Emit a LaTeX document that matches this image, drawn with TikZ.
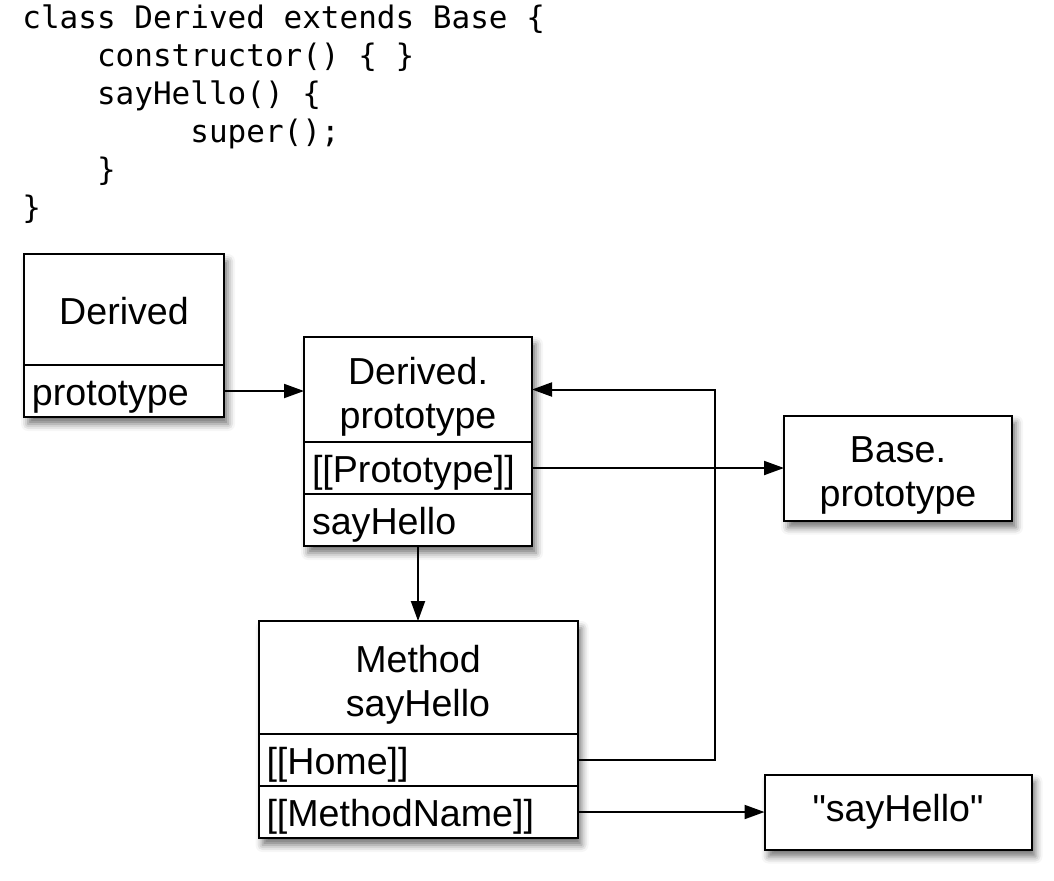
\documentclass[tikz,border=0pt]{standalone}
\usepackage{fontspec}
\setmainfont{Liberation Sans}
\setmonofont{DejaVu Sans Mono}
\usepackage{tikz}
\usetikzlibrary{shapes,arrows,arrows.meta,positioning,calc,fit,backgrounds,shadows.blur}
\usepackage{xcolor}

\newcommand{\boxfont}{\fontsize{18.8pt}{22pt}\selectfont}
\newcommand{\codefont}{\ttfamily\fontsize{15.5pt}{19pt}\selectfont}
\newcommand{\tstrut}{\rule{0pt}{20.5pt}}

\begin{document}
\begin{tikzpicture}[
    box/.style={rectangle, draw, line width=1pt, fill=white, outer sep=0pt, font=\boxfont},
    title/.style={box, align=center, inner ysep=0pt},
    field/.style={box, align=left, inner xsep=4pt, inner ysep=2pt, text height=18pt, text depth=4pt, minimum height=26pt},
    code/.style={font=\codefont, inner sep=0pt, anchor=base west},
    shade/.style={fill=white, inner sep=0pt, blur shadow={shadow xshift=2pt, shadow yshift=-3.5pt, shadow blur radius=3.5pt, shadow opacity=55}},
    arrow/.style={-{Triangle[length=10pt,width=7pt]}, line width=1pt}
]
\useasboundingbox (0,0) rectangle (527pt,-440pt);

% Source code
\foreach \line [count=\i] in {
    class~Derived~extends~Base~\{,
    ~~~~constructor()~\{~\},
    ~~~~sayHello()~\{,
    ~~~~~~~~~super();,
    ~~~~\},
    \}}
  \node[code] (code\i) at (11pt,{(5-19*\i)*1pt}) {\line};

% Constructor
\node[title, minimum width=100pt, minimum height=55.5pt, anchor=north west] (derived) at (12pt,-127pt) {\rule{0pt}{15pt}Derived};
\node[field, text width=92pt, below=0pt of derived] (dproto) {prototype};

% Prototype object
\node[title, minimum width=114pt, minimum height=52.5pt, anchor=north west] (dptitle) at (152pt,-168.5pt) {\tstrut Derived.\\prototype};
\node[field, text width=106pt, below=0pt of dptitle] (ptype) {[[Prototype]]};
\node[field, text width=106pt, below=0pt of ptype] (sayh) {sayHello};

% Method object
\node[title, minimum width=159.5pt, minimum height=56.5pt, below=37.5pt of sayh] (mtitle) {\tstrut Method\\sayHello};
\node[field, text width=151.5pt, below=0pt of mtitle] (home) {[[Home]]};
\node[field, text width=151.5pt, below=0pt of home] (mname) {[[MethodName]]};

% Targets
\node[title, minimum width=114pt, minimum height=52.5pt, right=126pt of ptype] (basep) {\tstrut Base.\\prototype};
\node[title, minimum width=133.5pt, minimum height=37.5pt, right=93.5pt of mname] (sayhstr) {\textquotedbl sayHello\textquotedbl};

% Shadows
\begin{scope}[on background layer]
  \node[shade, fit=(derived)(dproto)] (s1) {};
  \node[shade, fit=(dptitle)(sayh)] (s2) {};
  \node[shade, fit=(mtitle)(mname)] (s3) {};
  \node[shade, fit=(basep)] (s4) {};
  \node[shade, fit=(sayhstr)] (s5) {};
\end{scope}

% Arrows
\draw[arrow] (dproto.east) -- (dptitle.west |- dproto.east);
\draw[arrow] (ptype.east) -- (ptype.east -| basep.west);
\draw[arrow] (sayh.south) -- (mtitle.north);
\draw[arrow] (home.east) -- ++(68.5pt,0) |- (dptitle.east);
\draw[arrow] (mname.east) -- (mname.east -| sayhstr.west);

\end{tikzpicture}
\end{document}
